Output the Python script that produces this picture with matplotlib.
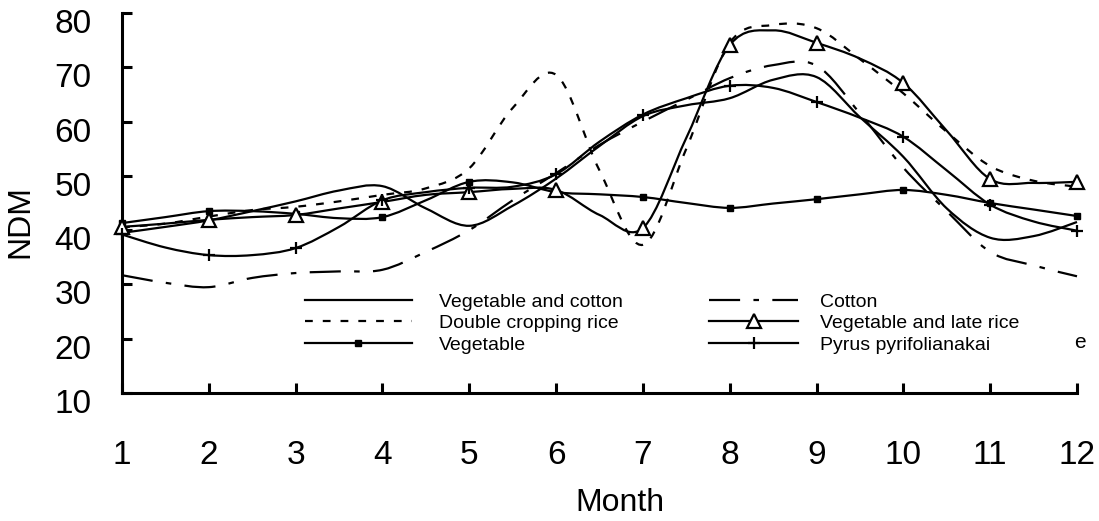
import matplotlib
matplotlib.use("Agg")
import matplotlib.pyplot as plt
import matplotlib.transforms as mtransforms
from matplotlib.path import Path
from matplotlib.patches import PathPatch
from matplotlib.lines import Line2D

plt.rcParams['font.family'] = ['Liberation Sans', 'DejaVu Sans']

# half-month sampling, values
months = [1, 1.5, 2, 2.5, 3, 3.5, 4, 4.5, 5, 5.5, 6, 6.5,
          7, 7.5, 8, 8.5, 9, 9.5, 10, 10.5, 11, 11.5, 12]

veg_cotton = [39.5, 40.6, 41.8, 43.5, 45.3, 47.3, 48.1, 44.0, 40.8, 44.5, 49.5, 55.5,
              61.0, 63.0, 64.3, 67.7, 68.2, 60.8, 53.5, 44.0, 38.6, 38.9, 41.5]
double_rice = [40.5, 41.2, 42.5, 43.7, 44.3, 45.3, 46.5, 47.7, 51.4, 62.5, 68.6, 51.0,
               37.3, 55.0, 74.5, 77.8, 77.2, 71.5, 65.2, 58.1, 51.8, 49.1, 48.0]
vegetable = [41.3, 42.4, 43.5, 43.5, 43.0, 42.2, 42.4, 45.5, 48.9, 48.8, 47.0, 46.6,
             46.1, 45.0, 44.1, 44.9, 45.7, 46.6, 47.4, 46.5, 45.0, 43.8, 42.6]
cotton = [31.7, 30.3, 29.5, 31.2, 32.1, 32.4, 32.7, 36.0, 40.0, 45.5, 50.5, 55.7,
          60.0, 64.0, 68.0, 70.4, 70.3, 61.5, 51.5, 43.5, 36.0, 33.5, 31.5]
late_rice = [40.6, 41.2, 41.9, 42.4, 42.8, 44.0, 45.2, 46.5, 47.0, 47.6, 47.4, 42.8,
             40.4, 57.0, 74.1, 76.8, 74.5, 71.6, 67.1, 58.3, 49.4, 48.7, 48.9]
pyrus = [39.2, 36.8, 35.4, 35.4, 36.7, 40.6, 45.5, 47.0, 47.8, 48.0, 50.3, 56.3,
         61.3, 64.3, 66.6, 66.2, 63.6, 60.7, 57.2, 51.0, 44.7, 41.6, 39.9]

labels = ['Vegetable and cotton', 'Double cropping rice', 'Vegetable',
          'Cotton', 'Vegetable and late rice', 'Pyrus pyrifolianakai']
month_ticks = [1, 2, 3, 4, 5, 6, 7, 8, 9, 10, 11, 12]
ndm_ticks = [10, 20, 30, 40, 50, 60, 70, 80]


def smooth_path(xs, ys):
    # Excel-style smoothed line: Catmull-Rom segments as cubic Beziers
    pts = list(zip(xs, ys))
    verts = [pts[0]]
    codes = [Path.MOVETO]
    for i in range(len(pts) - 1):
        p0 = pts[i - 1] if i > 0 else pts[i]
        p1, p2 = pts[i], pts[i + 1]
        p3 = pts[i + 2] if i + 2 < len(pts) else pts[i + 1]
        c1 = (p1[0] + (p2[0] - p0[0]) / 6, p1[1] + (p2[1] - p0[1]) / 6)
        c2 = (p2[0] - (p3[0] - p1[0]) / 6, p2[1] - (p3[1] - p1[1]) / 6)
        verts += [c1, c2, p2]
        codes += [Path.CURVE4] * 3
    return Path(verts, codes)


W, H = 1099, 521
fig = plt.figure(figsize=(W / 100, H / 100), dpi=100)
ax = fig.add_axes([122 / W, 128 / H, 955 / W, 380 / H])

lw = 1.6
dotted = (0, (3.5, 4.5))
dashdot = (0, (14, 6, 2.5, 6))
series = [
    (veg_cotton, '-', None, {}),
    (double_rice, dotted, None, {}),
    (vegetable, '-', 's', dict(ms=5)),
    (cotton, dashdot, None, {}),
    (late_rice, '-', '^', dict(ms=10, mfc='white', mec='black', mew=1.6)),
    (pyrus, '-', '+', dict(ms=9, mew=1.6)),
]

handles = []
for vals, ls, mk, mkw in series:
    ax.add_patch(PathPatch(smooth_path(months, vals), fill=False, edgecolor='black',
                           lw=lw, linestyle=ls, joinstyle='round', clip_on=False))
    if mk:
        # markers on whole months only
        ax.plot(months[::2], vals[::2], linestyle='none', marker=mk, color='black',
                clip_on=False, zorder=3, **mkw)
    handles.append(Line2D([], [], color='black', lw=lw, linestyle=ls, marker=mk, **mkw))

ax.set_xlim(1, 12)
ax.set_ylim(10, 80)
ax.set_xticks(month_ticks)
ax.set_yticks(ndm_ticks)
for s in ['top', 'right']:
    ax.spines[s].set_visible(False)
for s in ['left', 'bottom']:
    ax.spines[s].set_linewidth(2.2)
ax.tick_params(axis='both', direction='in', length=7, width=2.2, labelsize=24)
ax.tick_params(axis='x', pad=34)
ax.tick_params(axis='y', pad=22)

# y labels sit a little below their ticks in the original
shift = mtransforms.ScaledTranslation(0, -8 / 100, fig.dpi_scale_trans)
for t in ax.yaxis.get_major_ticks():
    t.label1.set_transform(t.label1.get_transform() + shift)

fig.text(620 / W, 1 - 503 / H, 'Month', ha='center', va='center', fontsize=23)
fig.text(20 / W, 1 - 222 / H, 'NDM', ha='center', va='center', fontsize=23, rotation=90)

leg1 = ax.legend(handles[:3], labels[:3], loc='upper left',
                 bbox_to_anchor=(305 / W, 1 - 293 / H), bbox_transform=fig.transFigure,
                 frameon=False, fontsize=14, handlelength=5.5, handletextpad=1.4,
                 labelspacing=0.2, borderpad=0, borderaxespad=0)
ax.add_artist(leg1)
ax.legend(handles[3:], labels[3:], loc='upper left',
          bbox_to_anchor=(709 / W, 1 - 293 / H), bbox_transform=fig.transFigure,
          frameon=False, fontsize=14, handlelength=4.6, handletextpad=1.1,
          labelspacing=0.2, borderpad=0, borderaxespad=0)

fig.text(1080 / W, 1 - 342 / H, 'e', ha='center', va='center', fontsize=15)

fig.savefig('out.png', dpi=100)
